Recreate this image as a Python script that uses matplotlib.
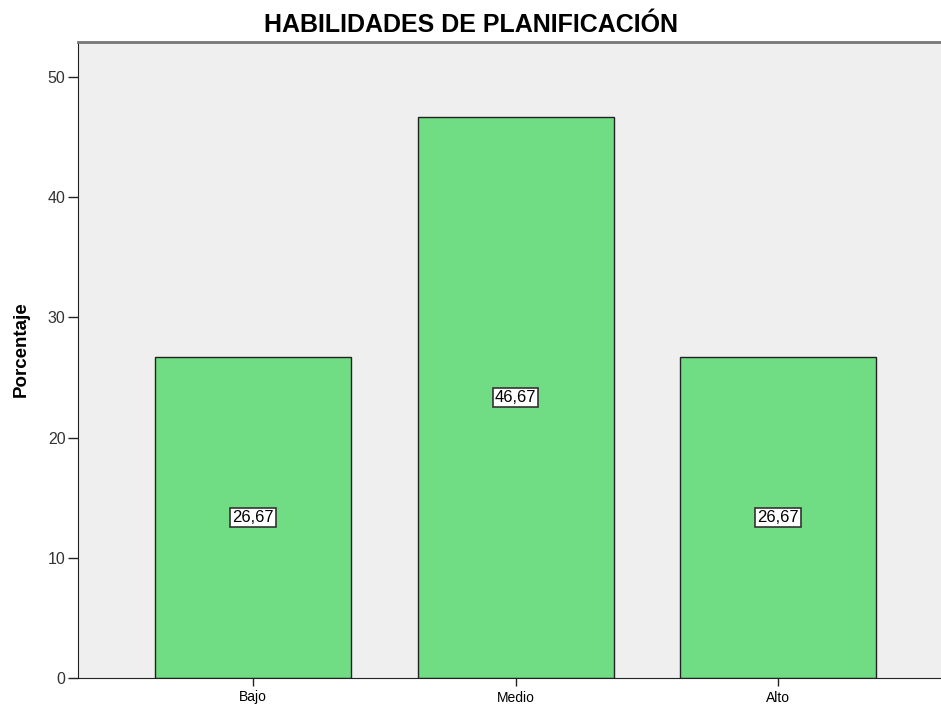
#!/usr/bin/env python3
import matplotlib
matplotlib.use("Agg")
import matplotlib.pyplot as plt
import numpy as np

categories = ["Bajo", "Medio", "Alto"]
percentages = [26.67, 46.67, 26.67]
y_ticks = [0, 10, 20, 30, 40, 50]

plt.rcParams["font.family"] = ["Liberation Sans", "DejaVu Sans"]

fig = plt.figure(figsize=(9.41, 7.09), dpi=100)
ax = fig.add_axes([78 / 941, 1 - 678 / 709, 1 - 78 / 941, (678 - 42) / 709])
ax.set_facecolor("#efefef")

x = np.arange(len(categories))
ax.bar(x, percentages, width=0.747, color="#70dc84", edgecolor="#222222",
       linewidth=1.0, zorder=2)

# value labels in boxes at half height, comma decimal
for xi, v in zip(x, percentages):
    ax.text(xi, v / 2, f"{v:.2f}".replace(".", ","), ha="center", va="center",
            fontsize=12, zorder=3,
            bbox=dict(boxstyle="square,pad=0.12", facecolor="white",
                      edgecolor="#333333", linewidth=1.2))

ax.set_xlim(-0.667, 2.62)
ax.set_ylim(0, 52.9)
ax.set_xticks(x)
ax.set_xticklabels(categories, fontsize=10)
ax.set_yticks(y_ticks)
ax.set_yticklabels([str(t) for t in y_ticks], fontsize=11.5, color="#333333")
ax.tick_params(axis="y", direction="out", length=7, width=1, pad=2,
               color="#222222")
ax.tick_params(axis="x", direction="out", length=6, width=1, pad=3,
               color="#222222")

ax.spines["right"].set_visible(False)
ax.spines["top"].set_color("#777777")
ax.spines["top"].set_linewidth(2)
ax.spines["left"].set_color("#222222")
ax.spines["bottom"].set_color("#222222")

ax.set_ylabel("Porcentaje", fontsize=13.5, fontweight="bold")
ax.yaxis.set_label_coords(-0.056, 0.517)
fig.text(0.5, 1 - 25 / 709, "HABILIDADES DE PLANIFICACIÓN", ha="center",
         va="center", fontsize=18, fontweight="bold")

fig.savefig("out.png", dpi=100)
